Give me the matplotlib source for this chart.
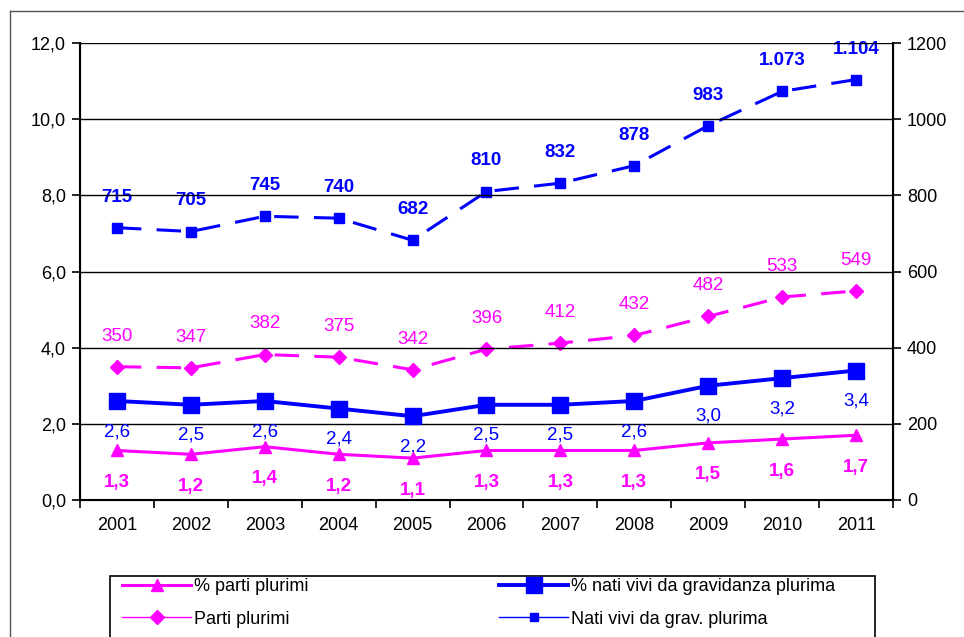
import matplotlib.pyplot as plt
from matplotlib.lines import Line2D
from matplotlib.patches import Rectangle

plt.rcParams['font.family'] = ['Liberation Sans', 'DejaVu Sans']

# Data
years = ['2001', '2002', '2003', '2004', '2005', '2006', '2007', '2008', '2009', '2010', '2011']
pct_parti = [1.3, 1.2, 1.4, 1.2, 1.1, 1.3, 1.3, 1.3, 1.5, 1.6, 1.7]
pct_nati = [2.6, 2.5, 2.6, 2.4, 2.2, 2.5, 2.5, 2.6, 3.0, 3.2, 3.4]
parti_plurimi = [350, 347, 382, 375, 342, 396, 412, 432, 482, 533, 549]
nati_vivi = [715, 705, 745, 740, 682, 810, 832, 878, 983, 1073, 1104]

magenta = '#FF00FF'
blue = '#0000FF'

fig = plt.figure(figsize=(9.64, 6.37), dpi=100)
ax = fig.add_axes([80 / 964, 1 - 500 / 637, 813 / 964, 457 / 637])
ax2 = ax.twinx()

x = list(range(len(years)))

def it_fmt(v):
    return f"{v:.1f}".replace('.', ',')

def thousands(v):
    return f"{v:,}".replace(',', '.')

# left axis series
l1, = ax.plot(x, pct_parti, color=magenta, lw=2.2, marker='^', ms=9, zorder=4)
l2, = ax.plot(x, pct_nati, color=blue, lw=2.8, marker='s', ms=12, zorder=4)
# right axis series
l3, = ax2.plot(x, parti_plurimi, color=magenta, lw=2.2, ls=(0, (8, 5)), marker='D', ms=7)
l4, = ax2.plot(x, nati_vivi, color=blue, lw=2.2, ls=(0, (8, 5)), marker='s', ms=7)

lab_fs = 13.5
for xi, v in zip(x, pct_parti):
    ax.annotate(it_fmt(v), (xi, v), xytext=(0, -23), textcoords='offset points',
                ha='center', va='center', color=magenta, fontsize=lab_fs, fontweight='bold')
for xi, v in zip(x, pct_nati):
    ax.annotate(it_fmt(v), (xi, v), xytext=(0, -22), textcoords='offset points',
                ha='center', va='center', color=blue, fontsize=lab_fs)
for xi, v in zip(x, parti_plurimi):
    ax2.annotate(str(v), (xi, v), xytext=(0, 22), textcoords='offset points',
                 ha='center', va='center', color=magenta, fontsize=lab_fs)
for xi, v in zip(x, nati_vivi):
    ax2.annotate(thousands(v), (xi, v), xytext=(0, 22), textcoords='offset points',
                 ha='center', va='center', color=blue, fontsize=lab_fs, fontweight='bold')

tick_fs = 13
ax.set_xlim(-0.5, len(years) - 0.5)
ax.set_ylim(0, 12)
ax2.set_ylim(0, 1200)
ax.set_yticks([0, 2, 4, 6, 8, 10, 12])
ax.set_yticklabels([it_fmt(v) for v in [0, 2, 4, 6, 8, 10, 12]], fontsize=tick_fs)
ax2.set_yticks([0, 200, 400, 600, 800, 1000, 1200])
ax2.set_yticklabels(['0', '200', '400', '600', '800', '1000', '1200'], fontsize=tick_fs)

# category ticks between years, labels centered
ax.set_xticks([i - 0.5 for i in range(len(years) + 1)])
ax.set_xticklabels([])
ax.set_xticks(x, minor=True)
ax.set_xticklabels(years, minor=True, fontsize=tick_fs)
ax.tick_params(axis='x', which='minor', length=0, pad=12)
ax.tick_params(axis='x', which='major', length=6, width=1.2, direction='out')
ax.tick_params(axis='y', length=6, width=1.2, pad=4)
ax2.tick_params(axis='y', length=6, width=1.2, pad=4)

ax.grid(axis='y', color='black', lw=1)
ax.set_axisbelow(True)
ax.spines['top'].set_visible(False)
ax2.spines['top'].set_visible(False)
for sp in ['left', 'bottom']:
    ax.spines[sp].set_linewidth(1.5)
ax2.spines['right'].set_linewidth(1.5)

ax.set_zorder(ax2.get_zorder() + 1)
ax.patch.set_visible(False)

# outer frame
fig.add_artist(Line2D([10 / 964, 10 / 964], [0, 1 - 11 / 637], color='#555555', lw=1))
fig.add_artist(Line2D([10 / 964, 1], [1 - 11 / 637, 1 - 11 / 637], color='#555555', lw=1))

# legend
fig.add_artist(Rectangle((110 / 964, -0.05), 765 / 964, 1 - 576 / 637 + 0.05,
                         fill=False, edgecolor='black', lw=1.2, transform=fig.transFigure))
h1 = Line2D([], [], color=magenta, lw=2.2, marker='^', ms=9)
h2 = Line2D([], [], color=blue, lw=2.8, marker='s', ms=12)
h3 = Line2D([], [], color=magenta, lw=1, marker='D', ms=7)
h4 = Line2D([], [], color=blue, lw=1, marker='s', ms=6)
fig.legend([h1, h3, h2, h4],
           ['% parti plurimi', 'Parti plurimi', '% nati vivi da gravidanza plurima', 'Nati vivi da grav. plurima'],
           loc='upper left', bbox_to_anchor=(106 / 964, 1 - 562 / 637), ncol=2, frameon=False,
           fontsize=13, handlelength=3.8, handletextpad=0.15, columnspacing=10.6, labelspacing=0.85)

fig.savefig('out.png', dpi=100)
